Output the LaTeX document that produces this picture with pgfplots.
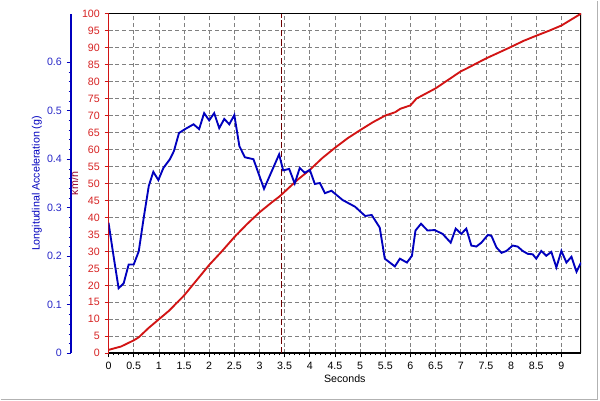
\documentclass[border=0pt]{standalone}
\usepackage{pgfplots}
\pgfplotsset{compat=1.18}
\usepackage{fontspec}
\setmainfont{Liberation Sans}
\definecolor{cred}{RGB}{210,20,20}
\definecolor{ctickred}{RGB}{215,35,35}
\definecolor{cdarkred}{RGB}{150,0,40}
\definecolor{cblue}{RGB}{0,0,190}
\definecolor{ctickblue}{RGB}{40,40,200}
\definecolor{cvline}{RGB}{110,0,0}
\begin{document}
\begin{tikzpicture}
\fill[white] (0,0) rectangle (450pt,300pt);
\draw[gray!60, line width=1pt] (0,0.75pt) -- (448pt,0.75pt) -- (448pt,300pt);
% red axis (speed)
\begin{axis}[
  at={(81pt,35.25pt)}, anchor=south west,
  width=354.75pt, height=255pt, scale only axis,
  xmin=0, xmax=9.39, ymin=0, ymax=100,
  axis lines=left, axis line style={-},
  x axis line style={black, line width=1.6pt},
  y axis line style={cred, line width=1.4pt},
  xtick={0,0.5,...,9}, ytick={0,5,...,100},
  minor x tick num=4,
  tick align=outside,
  major tick length=3pt, minor tick length=1.5pt,
  every x tick/.style={black, line width=0.5pt},
  every y tick/.style={cred, line width=0.5pt},
  xticklabel style={font=\fontsize{8}{9}\selectfont, black},
  yticklabel style={font=\fontsize{8}{9}\selectfont, ctickred},
  /pgf/number format/assume math mode=true,
  xticklabel={\pgfmathprintnumber[fixed,precision=1]{\tick}},
  grid=major,
  major grid style={gray, dashed, line width=0.5pt, dash pattern=on 3pt off 2pt},
  xlabel={Seconds}, xlabel style={font=\fontsize{8}{9}\selectfont, yshift=3pt},
  ylabel={km/h}, ylabel style={font=\fontsize{8}{9}\selectfont, cdarkred, yshift=-4pt},
  clip=true,
]
\draw[black, line width=0.8pt] (rel axis cs:0,1) -- (rel axis cs:1,1) -- (rel axis cs:1,0);
\addplot[cvline, line width=0.6pt, dash pattern=on 5pt off 2pt] coordinates {(3.44,0) (3.44,100)};
\addplot[cred, line width=1.4pt] coordinates {
(0,1) (0.25,2) (0.5,3.8) (0.6,4.7) (0.8,7.5) (1.0,10) (1.2,12.5) (1.5,17)
(1.75,21.5) (2.0,26) (2.25,30) (2.5,34.2) (2.75,38) (3.0,41.5) (3.25,44.5)
(3.4,46.2) (3.75,51) (4.0,54) (4.25,57.5) (4.5,60.5) (4.75,63.3) (5.0,65.7)
(5.25,68) (5.5,70) (5.7,71) (5.8,72) (6.0,73) (6.12,75) (6.5,78) (7.0,83)
(7.11,83.8) (7.5,86.8) (7.97,90) (8.25,92) (8.5,93.5) (8.76,95) (9.0,96.5)
(9.2,98.3) (9.39,100)};
\end{axis}
% blue axis (acceleration)
\begin{axis}[
  at={(81pt,35.25pt)}, anchor=south west,
  width=354.75pt, height=255pt, scale only axis,
  xmin=0, xmax=9.39, ymin=0, ymax=0.7,
  axis x line=none, axis y line=left, axis line style={-},
  axis y line shift=28.5pt,
  y axis line style={cblue, line width=1.4pt},
  ytick={0,0.1,...,0.6},
  minor y tick num=4,
  tick align=outside,
  major tick length=3pt, minor tick length=1.5pt,
  every y tick/.style={cblue, line width=0.5pt},
  yticklabel style={font=\fontsize{8}{9}\selectfont, ctickblue},
  /pgf/number format/assume math mode=true,
  yticklabel={\pgfmathprintnumber[fixed,precision=1]{\tick}},
  ylabel={Longitudinal Acceleration (g)},
  ylabel style={font=\fontsize{8}{9}\selectfont, cblue, yshift=-3pt},
  clip=true,
]
\addplot[cblue, line width=1.4pt] coordinates {
(0,0.269) (0.1,0.2) (0.2,0.134) (0.3,0.144) (0.4,0.183) (0.5,0.183)
(0.6,0.21) (0.7,0.28) (0.8,0.345) (0.89,0.374) (0.99,0.357) (1.09,0.382)
(1.22,0.40) (1.3,0.417) (1.4,0.454) (1.52,0.462) (1.69,0.472) (1.8,0.462)
(1.9,0.495) (2.0,0.48) (2.1,0.495) (2.2,0.464) (2.3,0.483) (2.4,0.472)
(2.5,0.491) (2.6,0.427) (2.71,0.404) (2.88,0.40) (3.09,0.339) (3.39,0.41)
(3.47,0.377) (3.59,0.38) (3.7,0.35) (3.8,0.382) (3.9,0.372) (4.0,0.378)
(4.1,0.349) (4.2,0.351) (4.3,0.33) (4.43,0.335) (4.65,0.316) (4.9,0.302)
(5.1,0.283) (5.23,0.285) (5.39,0.259) (5.49,0.195) (5.69,0.179) (5.79,0.195)
(5.93,0.187) (6.03,0.201) (6.1,0.253) (6.21,0.267) (6.34,0.253) (6.48,0.254)
(6.64,0.246) (6.8,0.228) (6.9,0.257) (7.01,0.246) (7.11,0.257) (7.21,0.222)
(7.31,0.22) (7.41,0.228) (7.54,0.244) (7.61,0.242) (7.71,0.218) (7.81,0.207)
(7.91,0.211) (8.03,0.222) (8.13,0.22) (8.23,0.211) (8.33,0.205) (8.43,0.204)
(8.5,0.195) (8.6,0.211) (8.7,0.201) (8.8,0.209) (8.9,0.177) (9.0,0.211)
(9.1,0.187) (9.2,0.199) (9.3,0.168) (9.39,0.187)};
\end{axis}
\end{tikzpicture}
\end{document}
